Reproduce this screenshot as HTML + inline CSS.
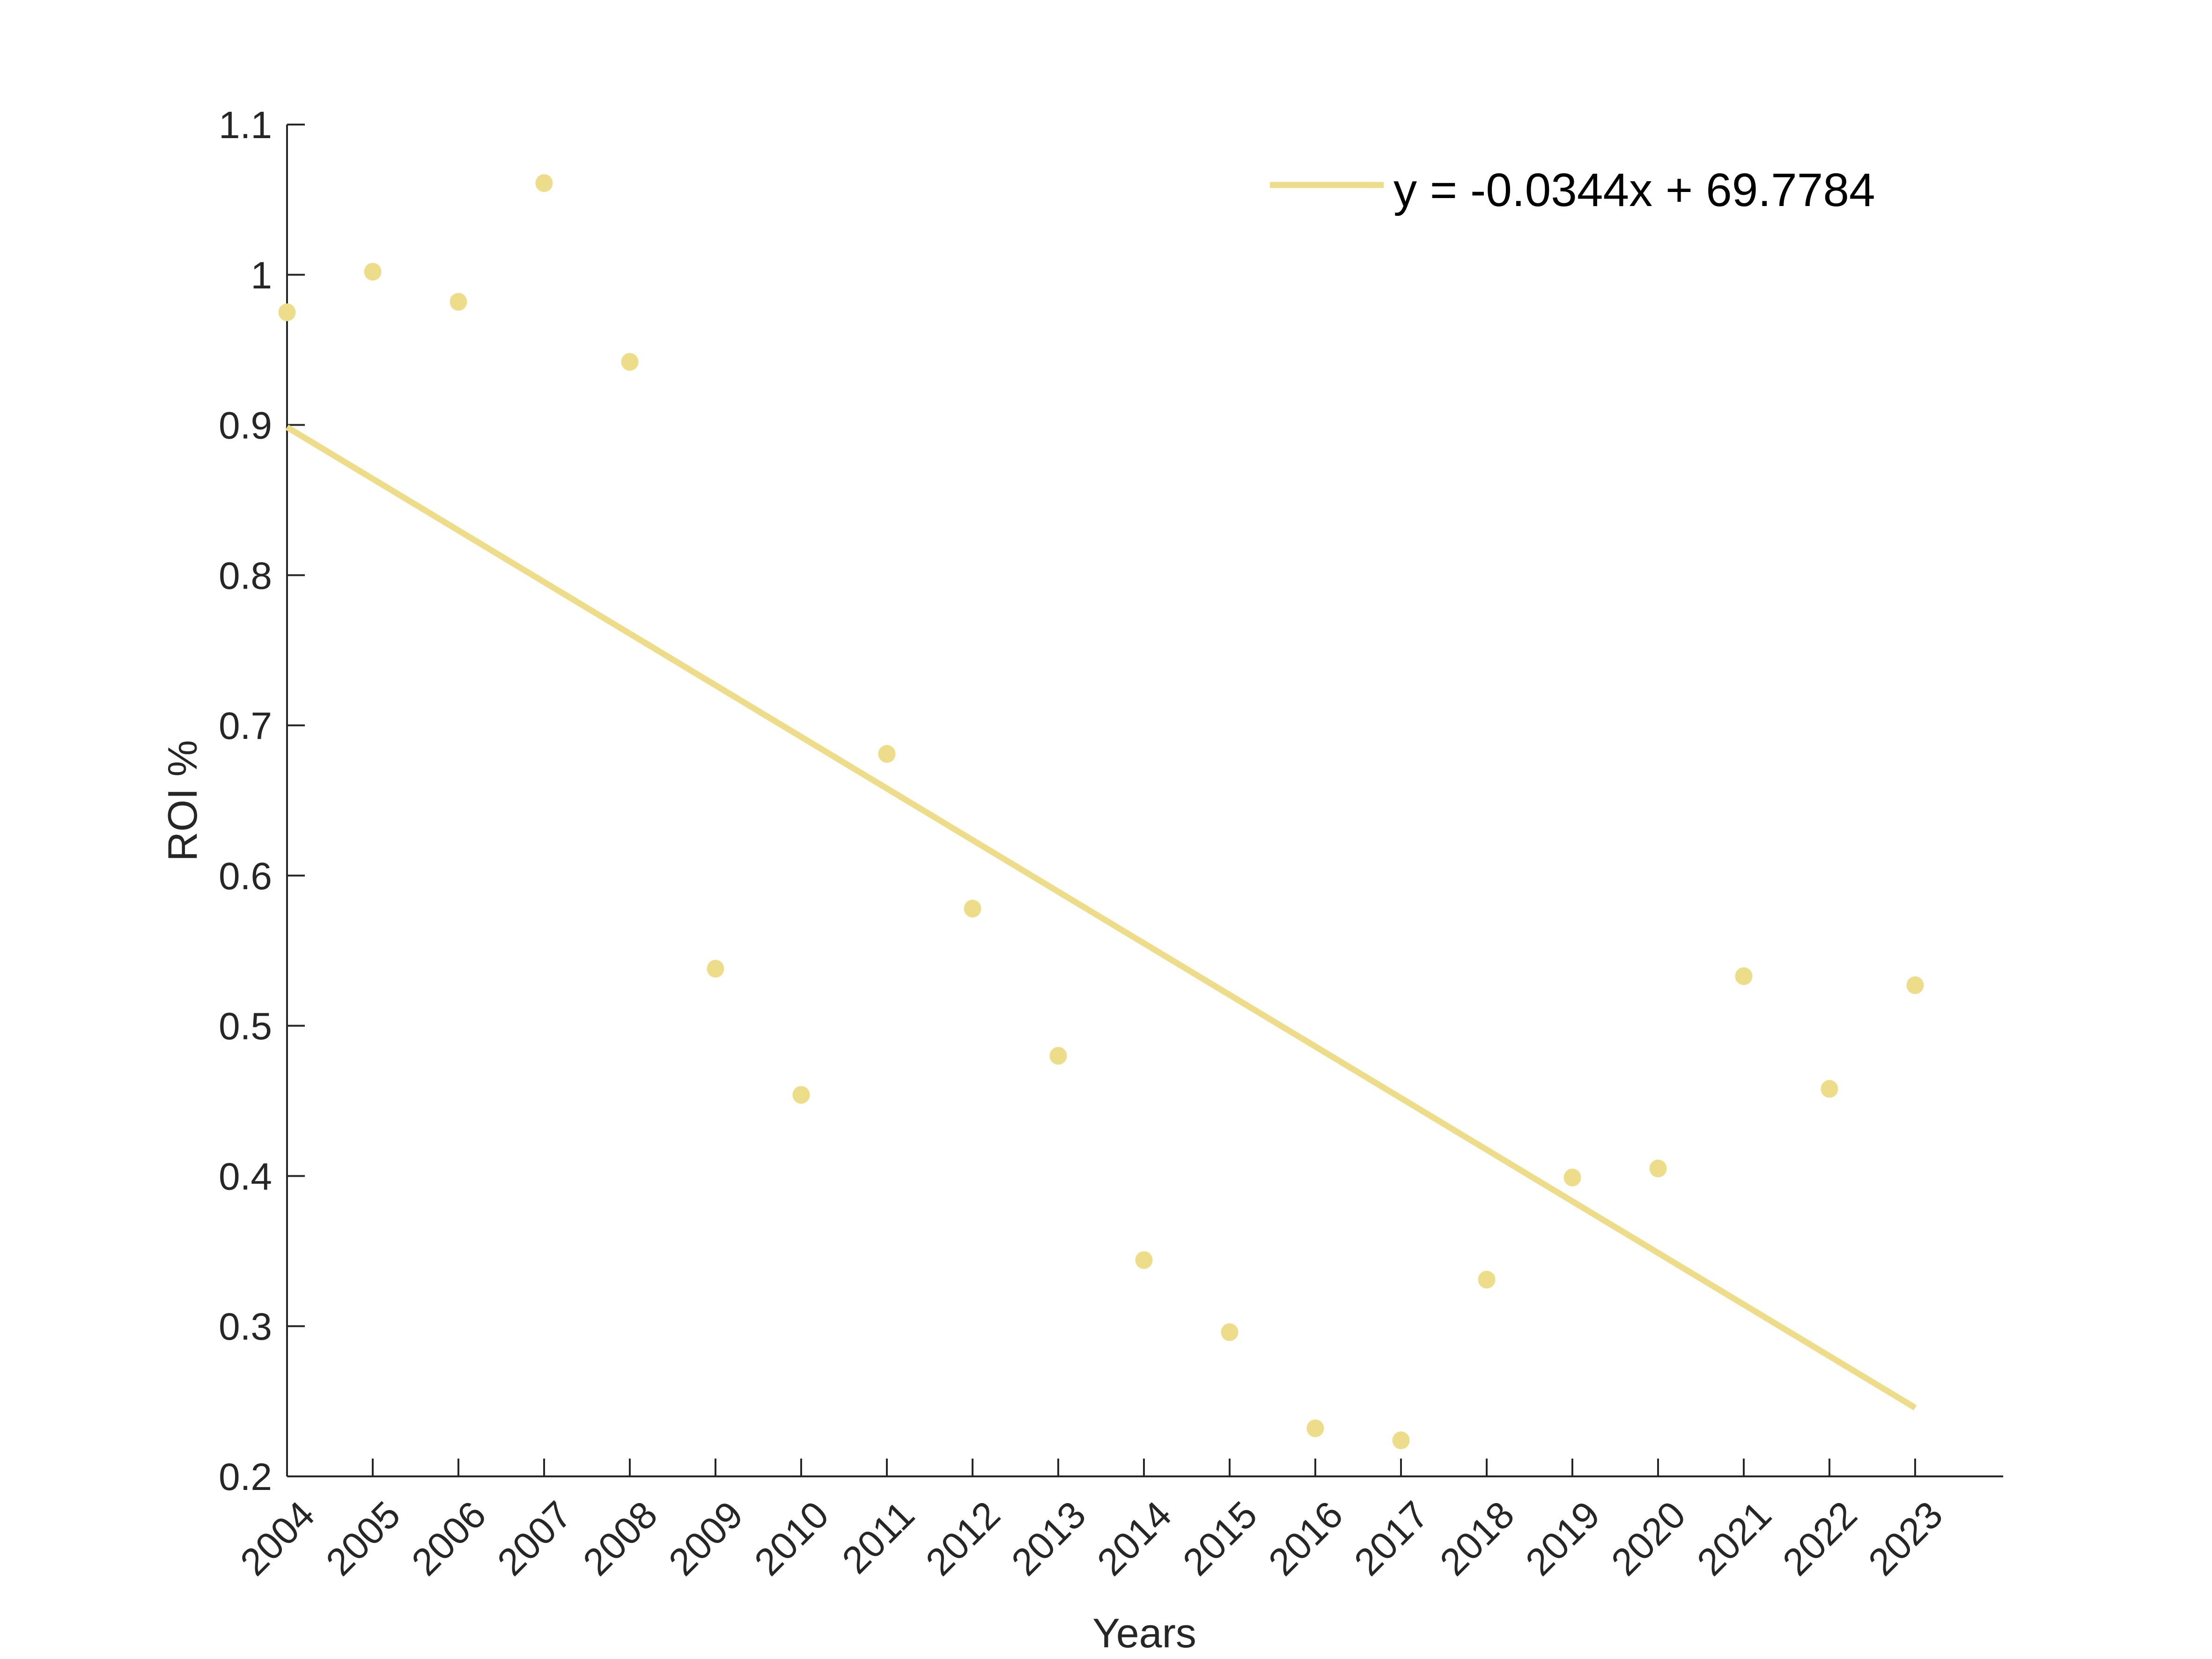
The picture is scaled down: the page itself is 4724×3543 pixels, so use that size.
<!DOCTYPE html>
<html><head><meta charset="utf-8"><style>body{margin:0;background:#fff}svg{display:block}</style></head>
<body>
<svg id="chart" xmlns="http://www.w3.org/2000/svg" width="4724" height="3543" viewBox="0 0 4724 3543" font-family="Liberation Sans, sans-serif"></svg>
<script>
const years = [2004,2005,2006,2007,2008,2009,2010,2011,2012,2013,2014,2015,2016,2017,2018,2019,2020,2021,2022,2023];
const roi = [0.975,1.002,0.982,1.061,0.942,0.538,0.454,0.681,0.578,0.480,0.344,0.296,0.232,0.224,0.331,0.399,0.405,0.533,0.458,0.527];
const yTicks = [0.2,0.3,0.4,0.5,0.6,0.7,0.8,0.9,1,1.1];
const legendText = "y = -0.0344x + 69.7784";

const NS = "http://www.w3.org/2000/svg";
const svg = document.getElementById('chart');
const L = 613, R = 4278, T = 266, B = 3153, step = 183.0;
const X = v => L + (v - years[0]) * step;
const Y = v => B - (v - 0.2) / 0.9 * (B - T);
const col = "#EDDD8A";
function mk(tag, attrs, parent) {
  const e = document.createElementNS(NS, tag);
  for (const k in attrs) e.setAttribute(k, attrs[k]);
  (parent || svg).appendChild(e);
  return e;
}
let e = mk('line', {x1:L, y1:T, x2:L, y2:B, stroke:'#262626', 'stroke-width':4});


e = mk('line', {x1:L, y1:B, x2:R, y2:B, stroke:'#262626', 'stroke-width':4});


yTicks.forEach(t => {
  const y = Y(t);
  let tk = mk('line', {x1:L, y1:y, x2:L+38, y2:y, stroke:'#262626', 'stroke-width':4});
  
  
  let tx = mk('text', {x:L-32, y:y+29, 'text-anchor':'end', 'font-size':82, fill:'#262626'});
  tx.textContent = String(t);
  
  
});
years.forEach(yr => {
  const x = X(yr);
  let tk = mk('line', {x1:x, y1:B, x2:x, y2:B-38, stroke:'#262626', 'stroke-width':4});
  
  
  let tx = mk('text', {x:0, y:0, 'text-anchor':'end', 'font-size':82, fill:'#262626', transform:`translate(${x+22},${B+46}) rotate(-45)`, dy:'0.72em'});
  tx.textContent = String(yr);
  
  
});
const n = years.length;
const mx = years.reduce((a,b)=>a+b,0)/n, my = roi.reduce((a,b)=>a+b,0)/n;
let sxy=0, sxx=0;
for (let i=0;i<n;i++){sxy+=(years[i]-mx)*(roi[i]-my);sxx+=(years[i]-mx)**2;}
const slope = sxy/sxx, icpt = my - slope*mx;
e = mk('line', {x1:X(years[0]), y1:Y(slope*years[0]+icpt), x2:X(years[n-1]), y2:Y(slope*years[n-1]+icpt), stroke:col, 'stroke-width':13});


years.forEach((yr,i) => {
  let c = mk('ellipse', {cx:X(yr), cy:Y(roi[i]), rx:18.5, ry:19, fill:col});
  
  
});
const lg = mk('g', {});


e = mk('line', {x1:2712, y1:395, x2:2955, y2:395, stroke:col, 'stroke-width':13}, lg);


e = mk('text', {x:2976, y:440, 'font-size':100, fill:'#000'}, lg);
e.textContent = legendText;


e = mk('text', {x:0, y:0, 'text-anchor':'middle', 'font-size':88, fill:'#262626', transform:'translate(420,1710) rotate(-90)'});
e.textContent = 'ROI %';


e = mk('text', {x:2444, y:3518, 'text-anchor':'middle', 'font-size':88, fill:'#262626'});
e.textContent = 'Years';


</script>
</body></html>
